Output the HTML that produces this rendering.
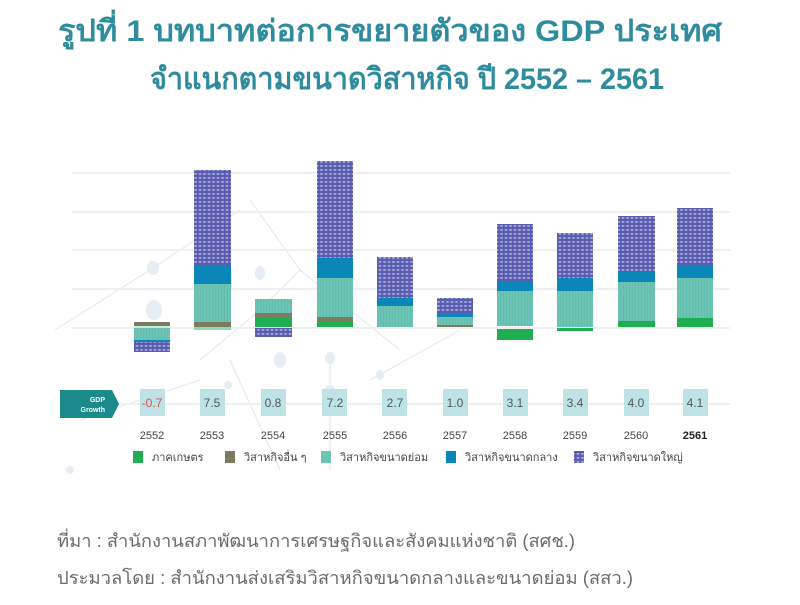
<!DOCTYPE html>
<html><head><meta charset="utf-8"><style>
html,body{margin:0;padding:0;background:#fff;}
body{width:800px;height:600px;overflow:hidden;font-family:"Liberation Sans","DejaVu Sans",sans-serif;}
</style></head><body>
<svg width="800" height="600" xmlns="http://www.w3.org/2000/svg" font-family="Liberation Sans, DejaVu Sans, sans-serif">
<defs>
<pattern id="dot" width="4.5" height="4" patternUnits="userSpaceOnUse">
<rect width="4.5" height="4" fill="#5a5cb0"/>
<rect x="0.7" y="1.4" width="2.6" height="1.1" fill="#d8daf0"/>
</pattern>
<pattern id="tl" width="3" height="4" patternUnits="userSpaceOnUse">
<rect width="3" height="4" fill="#6cc4b4"/>
<rect x="2" width="0.6" height="4" fill="#5fb6a6"/>
</pattern>
</defs>
<rect width="800" height="600" fill="#fff"/>
<text x="390" y="41" text-anchor="middle" font-size="30" font-weight="bold" fill="#2f8b9e" textLength="664" lengthAdjust="spacingAndGlyphs">รูปที่ 1 บทบาทต่อการขยายตัวของ GDP ประเทศ</text>
<text x="407" y="89" text-anchor="middle" font-size="30" font-weight="bold" fill="#2f8b9e" textLength="514" lengthAdjust="spacingAndGlyphs">จำแนกตามขนาดวิสาหกิจ ปี 2552 – 2561</text>
<!-- decorative network -->
<g stroke="#e6eaf0" stroke-width="1.2" fill="none">
<line x1="55" y1="330" x2="150" y2="270"/><line x1="150" y1="270" x2="240" y2="210"/>
<line x1="200" y1="360" x2="260" y2="310"/><line x1="260" y1="310" x2="300" y2="270"/>
<line x1="300" y1="270" x2="400" y2="350"/><line x1="300" y1="270" x2="250" y2="200"/>
<line x1="330" y1="355" x2="330" y2="470"/><line x1="370" y1="380" x2="460" y2="330"/>
<line x1="80" y1="420" x2="200" y2="380"/><line x1="230" y1="360" x2="280" y2="470"/>
</g>
<g fill="#e5ecf4">
<ellipse cx="153" cy="268" rx="6" ry="7"/><ellipse cx="154" cy="310" rx="8" ry="10"/>
<ellipse cx="260" cy="273" rx="5" ry="7"/><ellipse cx="280" cy="360" rx="6" ry="8"/>
<ellipse cx="330" cy="358" rx="5" ry="6"/><ellipse cx="380" cy="375" rx="4" ry="5"/>
<circle cx="330" cy="390" r="5"/><circle cx="228" cy="385" r="4"/><circle cx="70" cy="470" r="4"/>
</g>
<g stroke="#eeeff2" stroke-width="2">
<line x1="72" y1="173" x2="730" y2="173"/><line x1="72" y1="212" x2="730" y2="212"/>
<line x1="72" y1="250" x2="730" y2="250"/><line x1="72" y1="289" x2="730" y2="289"/>
<line x1="72" y1="328" x2="730" y2="328"/>
</g>
<g>
<rect x="134" y="322" width="36" height="4" fill="#7d7a5e"/>
<rect x="134" y="326" width="36" height="2" fill="#cfe9e0"/>
<rect x="134" y="328" width="36" height="12" fill="url(#tl)"/>
<rect x="134" y="340" width="36" height="2" fill="#0a86b8"/>
<rect x="134" y="342" width="36" height="10" fill="url(#dot)"/>
<rect x="194" y="170" width="37" height="95" fill="url(#dot)"/>
<rect x="194" y="265" width="37" height="19" fill="#0a86b8"/>
<rect x="194" y="284" width="37" height="38" fill="url(#tl)"/>
<rect x="194" y="322" width="37" height="5" fill="#7d7a5e"/>
<rect x="194" y="327" width="37" height="3" fill="#8fd6b8"/>
<rect x="255" y="299" width="37" height="14" fill="url(#tl)"/>
<rect x="255" y="313" width="37" height="4" fill="#7d7a5e"/>
<rect x="255" y="317" width="37" height="10" fill="#1fae52"/>
<rect x="255" y="328" width="37" height="9" fill="url(#dot)"/>
<rect x="317" y="161" width="36" height="97" fill="url(#dot)"/>
<rect x="317" y="258" width="36" height="20" fill="#0a86b8"/>
<rect x="317" y="278" width="36" height="39" fill="url(#tl)"/>
<rect x="317" y="317" width="36" height="5" fill="#7d7a5e"/>
<rect x="317" y="322" width="36" height="5" fill="#1fae52"/>
<rect x="377" y="257" width="36" height="41" fill="url(#dot)"/>
<rect x="377" y="298" width="36" height="8" fill="#0a86b8"/>
<rect x="377" y="306" width="36" height="21" fill="url(#tl)"/>
<rect x="437" y="298" width="36" height="15" fill="url(#dot)"/>
<rect x="437" y="313" width="36" height="4" fill="#0a86b8"/>
<rect x="437" y="317" width="36" height="8" fill="url(#tl)"/>
<rect x="437" y="325" width="36" height="2" fill="#7d7a5e"/>
<rect x="497" y="224" width="36" height="57" fill="url(#dot)"/>
<rect x="497" y="281" width="36" height="10" fill="#0a86b8"/>
<rect x="497" y="291" width="36" height="35" fill="url(#tl)"/>
<rect x="497" y="329" width="36" height="11" fill="#1fae52"/>
<rect x="557" y="233" width="36" height="45" fill="url(#dot)"/>
<rect x="557" y="278" width="36" height="13" fill="#0a86b8"/>
<rect x="557" y="291" width="36" height="36" fill="url(#tl)"/>
<rect x="557" y="328" width="36" height="3" fill="#1fae52"/>
<rect x="618" y="216" width="37" height="56" fill="url(#dot)"/>
<rect x="618" y="272" width="37" height="10" fill="#0a86b8"/>
<rect x="618" y="282" width="37" height="39" fill="url(#tl)"/>
<rect x="618" y="321" width="37" height="6" fill="#1fae52"/>
<rect x="677" y="208" width="36" height="57" fill="url(#dot)"/>
<rect x="677" y="265" width="36" height="13" fill="#0a86b8"/>
<rect x="677" y="278" width="36" height="40" fill="url(#tl)"/>
<rect x="677" y="318" width="36" height="9" fill="#1fae52"/>
</g>
<line x1="118" y1="404" x2="730" y2="404" stroke="#eeeff2" stroke-width="2"/>
<path d="M60 390 H112 L119 404 L112 418 H60 Z" fill="#1a8a8a"/>
<text x="105" y="402" text-anchor="end" font-size="7" font-weight="bold" fill="#fff">GDP</text>
<text x="105" y="412" text-anchor="end" font-size="7" font-weight="bold" fill="#fff">Growth</text>
<g font-size="12" text-anchor="middle" fill="#555">
<g fill="#bde3e7">
<rect x="140" y="389" width="25" height="27"/><rect x="200" y="389" width="25" height="27"/>
<rect x="261" y="389" width="25" height="27"/><rect x="322" y="389" width="25" height="27"/>
<rect x="382" y="389" width="25" height="27"/><rect x="443" y="389" width="25" height="27"/>
<rect x="503" y="389" width="25" height="27"/><rect x="563" y="389" width="25" height="27"/>
<rect x="624" y="389" width="25" height="27"/><rect x="683" y="389" width="25" height="27"/>
</g>
<text x="152" y="407" fill="#d9534f">-0.7</text><text x="212" y="407">7.5</text>
<text x="273" y="407">0.8</text><text x="335" y="407">7.2</text>
<text x="395" y="407">2.7</text><text x="455" y="407">1.0</text>
<text x="515" y="407">3.1</text><text x="575" y="407">3.4</text>
<text x="636" y="407">4.0</text><text x="695" y="407">4.1</text>
</g>
<g font-size="11" text-anchor="middle" fill="#444">
<text x="152" y="439">2552</text><text x="212" y="439">2553</text><text x="273" y="439">2554</text>
<text x="335" y="439">2555</text><text x="395" y="439">2556</text><text x="455" y="439">2557</text>
<text x="515" y="439">2558</text><text x="575" y="439">2559</text><text x="636" y="439">2560</text>
<text x="695" y="439" font-weight="bold" fill="#222">2561</text>
</g>
<g font-size="11" fill="#444">
<rect x="133" y="451" width="10" height="12" fill="#1fae52"/><text x="152" y="461">ภาคเกษตร</text>
<rect x="225" y="451" width="10" height="12" fill="#7d7a5e"/><text x="244" y="461">วิสาหกิจอื่น ๆ</text>
<rect x="321" y="451" width="10" height="12" fill="#6cc4b4"/><text x="340" y="461">วิสาหกิจขนาดย่อม</text>
<rect x="446" y="451" width="10" height="12" fill="#0a86b8"/><text x="465" y="461">วิสาหกิจขนาดกลาง</text>
<rect x="574" y="451" width="10" height="12" fill="url(#dot)"/><text x="593" y="461">วิสาหกิจขนาดใหญ่</text>
</g>
<g font-size="18" fill="#6b6b6b">
<text x="57" y="547" textLength="518" lengthAdjust="spacingAndGlyphs">ที่มา : สำนักงานสภาพัฒนาการเศรษฐกิจและสังคมแห่งชาติ (สศช.)</text>
<text x="57" y="584" textLength="576" lengthAdjust="spacingAndGlyphs">ประมวลโดย : สำนักงานส่งเสริมวิสาหกิจขนาดกลางและขนาดย่อม (สสว.)</text>
</g>
</svg>
</body></html>
